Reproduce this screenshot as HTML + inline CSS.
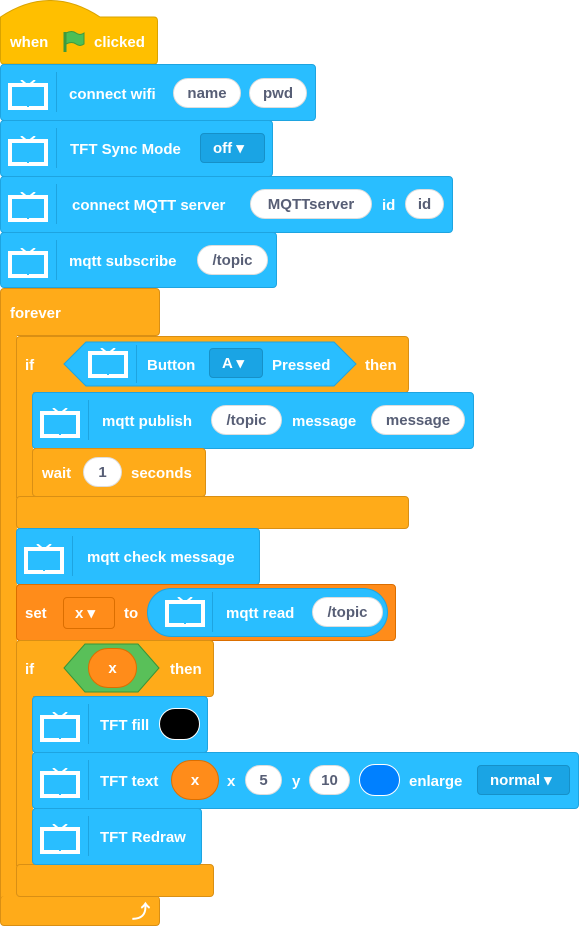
<!DOCTYPE html>
<html><head><meta charset="utf-8"><style>
body{margin:0;width:586px;height:928px;background:#fff;position:relative;overflow:hidden;font-family:"Liberation Sans",sans-serif}
div,span,svg{position:absolute;box-sizing:border-box}
.b{background:#29BEFF;border:1px solid #1ea4e0;border-radius:4px}
.c{background:#FFAB19;border:1px solid #D98F14;border-radius:4px}
.t{font-weight:bold;font-size:15px;color:#fff;line-height:20px;white-space:nowrap;transform:translateY(2px)}
.in{background:#fff;border:1px solid #ddd;border-radius:16px;color:#575E75;font-weight:bold;font-size:15px;text-align:center;line-height:30px;height:30px}
.dd{background:#1AA4E4;border:1px solid #1690c8;border-radius:4px;color:#fff;font-weight:bold;font-size:15px;line-height:30px;height:30px;padding-left:12px}
.sep{width:1px;background:#1ea4e0}
</style></head><body>
<svg width="0" height="0" style="position:absolute"><defs>
<g id="tv"><rect x="2" y="5" width="36" height="23" fill="none" stroke="#fff" stroke-width="4"/><path d="M13 0 L19 5 M27 0 L21 5" stroke="#fff" stroke-width="2"/><rect x="19" y="25" width="2" height="2" fill="#29BEFF"/></g>
</defs></svg>

<!-- forever -->
<div class="c" style="left:0;top:288px;width:160px;height:48px"></div>
<div style="left:0;top:330px;width:17px;height:580px;background:#FFAB19;border-left:1px solid #D98F14"></div>
<div class="c" style="left:0;top:896px;width:160px;height:30px;border-top:none"></div>
<span class="t" style="left:10px;top:302px">forever</span>
<span class="t" style="left:132px;top:900px;font-size:18px">⤴</span>

<!-- hat -->
<svg style="left:0;top:0" width="160" height="66"><path d="M0.5 17 Q50 -16 100 17 L154 17 Q157.5 17 157.5 21 L157.5 60 Q157.5 64 154 64 L4 64 Q0.5 64 0.5 60 Z" fill="#FFBF00" stroke="#d9a300"/></svg>
<span class="t" style="left:10px;top:31px">when</span>
<svg style="left:62px;top:30px" width="24" height="24"><path d="M3 2 V22" stroke="#3d9a3d" stroke-width="3"/><path d="M4 3 Q10 0 14 3 Q18 6 22 3 V14 Q18 17 14 14 Q10 11 4 14Z" fill="#4CBF56" stroke="#3d9a3d"/></svg>
<span class="t" style="left:94px;top:31px">clicked</span>

<!-- connect wifi -->
<div class="b" style="left:0;top:64px;width:316px;height:57px"></div>
<svg style="left:8px;top:80px" width="40" height="30"><use href="#tv"/></svg><div class="sep" style="left:56px;top:72px;height:40px"></div>
<span class="t" style="left:69px;top:83px">connect wifi</span>
<div class="in" style="left:173px;top:78px;width:68px">name</div>
<div class="in" style="left:249px;top:78px;width:58px">pwd</div>

<!-- TFT sync -->
<div class="b" style="left:0;top:120px;width:273px;height:57px"></div>
<svg style="left:8px;top:136px" width="40" height="30"><use href="#tv"/></svg><div class="sep" style="left:56px;top:128px;height:40px"></div>
<span class="t" style="left:70px;top:138px">TFT Sync Mode</span>
<div class="dd" style="left:200px;top:133px;width:65px">off ▾</div>

<!-- MQTT server -->
<div class="b" style="left:0;top:176px;width:453px;height:57px"></div>
<svg style="left:8px;top:192px" width="40" height="30"><use href="#tv"/></svg><div class="sep" style="left:56px;top:184px;height:40px"></div>
<span class="t" style="left:72px;top:194px">connect MQTT server</span>
<div class="in" style="left:250px;top:189px;width:122px">MQTTserver</div>
<span class="t" style="left:382px;top:194px">id</span>
<div class="in" style="left:405px;top:189px;width:39px">id</div>

<!-- subscribe -->
<div class="b" style="left:0;top:232px;width:277px;height:56px"></div>
<svg style="left:8px;top:248px" width="40" height="30"><use href="#tv"/></svg><div class="sep" style="left:56px;top:240px;height:40px"></div>
<span class="t" style="left:69px;top:250px">mqtt subscribe</span>
<div class="in" style="left:197px;top:245px;width:71px">/topic</div>

<!-- if 1 -->
<div class="c" style="left:16px;top:336px;width:393px;height:57px"></div>
<div style="left:16px;top:390px;width:17px;height:108px;background:#FFAB19;border-left:1px solid #D98F14"></div>
<div class="c" style="left:16px;top:496px;width:393px;height:33px"></div>
<span class="t" style="left:25px;top:354px">if</span>
<svg style="left:63px;top:341px" width="294" height="46"><polygon points="1,23 23,1 271,1 293,23 271,45 23,45" fill="#29BEFF" stroke="#1ea4e0"/></svg>
<svg style="left:88px;top:348px" width="40" height="30"><use href="#tv"/></svg><div class="sep" style="left:136px;top:345px;height:38px"></div>
<span class="t" style="left:147px;top:354px">Button</span>
<div class="dd" style="left:209px;top:348px;width:54px">A ▾</div>
<span class="t" style="left:272px;top:354px">Pressed</span>
<span class="t" style="left:365px;top:354px">then</span>

<!-- publish -->
<div class="b" style="left:32px;top:392px;width:442px;height:57px"></div>
<svg style="left:40px;top:408px" width="40" height="30"><use href="#tv"/></svg><div class="sep" style="left:88px;top:400px;height:40px"></div>
<span class="t" style="left:102px;top:410px">mqtt publish</span>
<div class="in" style="left:211px;top:405px;width:71px">/topic</div>
<span class="t" style="left:292px;top:410px">message</span>
<div class="in" style="left:371px;top:405px;width:94px">message</div>

<!-- wait -->
<div class="c" style="left:32px;top:448px;width:174px;height:49px"></div>
<span class="t" style="left:42px;top:462px">wait</span>
<div class="in" style="left:83px;top:457px;width:39px">1</div>
<span class="t" style="left:131px;top:462px">seconds</span>

<!-- check -->
<div class="b" style="left:16px;top:528px;width:244px;height:57px"></div>
<svg style="left:24px;top:544px" width="40" height="30"><use href="#tv"/></svg><div class="sep" style="left:72px;top:536px;height:40px"></div>
<span class="t" style="left:87px;top:546px">mqtt check message</span>

<!-- set -->
<div style="left:16px;top:584px;width:380px;height:57px;background:#FF8C1A;border:1px solid #db6e00;border-radius:4px"></div>
<span class="t" style="left:25px;top:602px">set</span>
<div style="left:63px;top:597px;width:52px;height:32px;background:#FF8C1A;border:1px solid #db6e00;border-radius:4px;color:#fff;font-weight:bold;font-size:15px;line-height:32px;padding-left:11px">x ▾</div>
<span class="t" style="left:124px;top:602px">to</span>
<div style="left:147px;top:588px;width:241px;height:49px;background:#29BEFF;border:1px solid #1ea4e0;border-radius:25px"></div>
<svg style="left:165px;top:597px" width="40" height="30"><use href="#tv"/></svg><div class="sep" style="left:212px;top:592px;height:40px"></div>
<span class="t" style="left:226px;top:602px">mqtt read</span>
<div class="in" style="left:312px;top:597px;width:71px">/topic</div>

<!-- if 2 -->
<div class="c" style="left:16px;top:640px;width:198px;height:57px"></div>
<div style="left:16px;top:694px;width:17px;height:172px;background:#FFAB19;border-left:1px solid #D98F14"></div>
<div class="c" style="left:16px;top:864px;width:198px;height:33px"></div>
<span class="t" style="left:25px;top:658px">if</span>
<svg style="left:63px;top:643px" width="97" height="50"><polygon points="1,25 22,1 75,1 96,25 75,49 22,49" fill="#59C059" stroke="#389438"/></svg>
<div style="left:88px;top:648px;width:49px;height:40px;background:#FF8C1A;border:1px solid #db6e00;border-radius:20px;color:#fff;font-weight:bold;font-size:15px;text-align:center;line-height:40px">x</div>
<span class="t" style="left:170px;top:658px">then</span>

<!-- fill -->
<div class="b" style="left:32px;top:696px;width:176px;height:57px"></div>
<svg style="left:40px;top:712px" width="40" height="30"><use href="#tv"/></svg><div class="sep" style="left:88px;top:704px;height:40px"></div>
<span class="t" style="left:100px;top:714px">TFT fill</span>
<div style="left:159px;top:708px;width:41px;height:32px;background:#000;border:1px solid #fff;border-radius:16px"></div>

<!-- text -->
<div class="b" style="left:32px;top:752px;width:547px;height:57px"></div>
<svg style="left:40px;top:768px" width="40" height="30"><use href="#tv"/></svg><div class="sep" style="left:88px;top:760px;height:40px"></div>
<span class="t" style="left:100px;top:770px">TFT text</span>
<div style="left:171px;top:760px;width:48px;height:40px;background:#FF8C1A;border:1px solid #db6e00;border-radius:20px;color:#fff;font-weight:bold;font-size:15px;text-align:center;line-height:40px">x</div>
<span class="t" style="left:227px;top:770px">x</span>
<div class="in" style="left:245px;top:765px;width:37px">5</div>
<span class="t" style="left:292px;top:770px">y</span>
<div class="in" style="left:309px;top:765px;width:41px">10</div>
<div style="left:359px;top:764px;width:41px;height:32px;background:#0080FF;border:1px solid #fff;border-radius:16px"></div>
<span class="t" style="left:409px;top:770px">enlarge</span>
<div class="dd" style="left:477px;top:765px;width:93px">normal ▾</div>

<!-- redraw -->
<div class="b" style="left:32px;top:808px;width:170px;height:57px"></div>
<svg style="left:40px;top:824px" width="40" height="30"><use href="#tv"/></svg><div class="sep" style="left:88px;top:816px;height:40px"></div>
<span class="t" style="left:100px;top:826px">TFT Redraw</span>
</body></html>
